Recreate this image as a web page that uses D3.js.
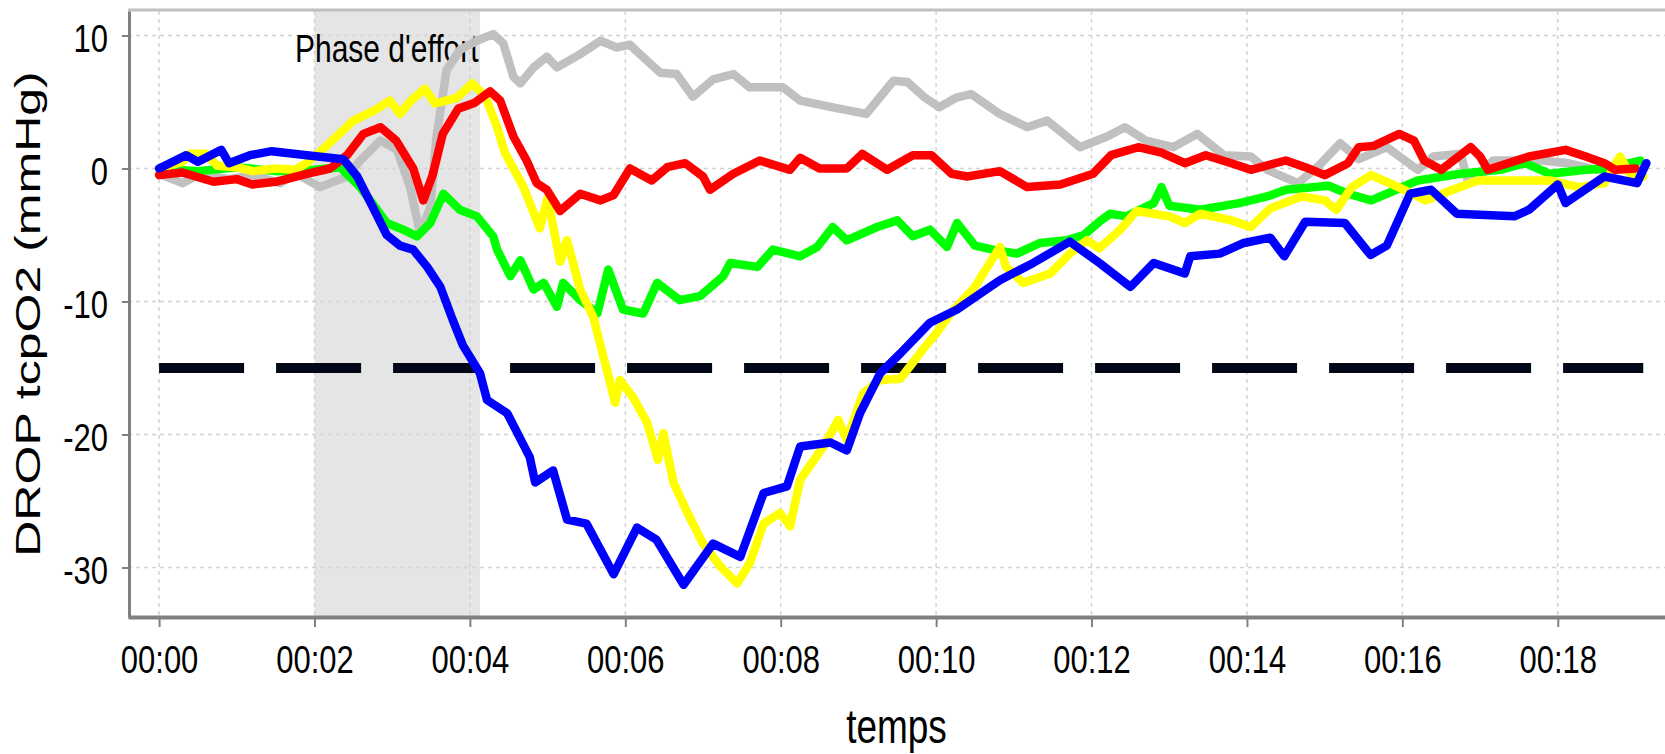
<!DOCTYPE html>
<html lang="fr">
<head>
    <meta charset="UTF-8">
    <title>DROP tcpO2</title>
    <script src="https://cdn.jsdelivr.net/npm/d3@7/dist/d3.min.js"></script>
    <style>
        body { margin: 0; background: #fff; }
        svg { display: block; }
        text { font-family: "Liberation Sans", Arial, sans-serif; fill: #000; }
    </style>
</head>
<body>
<div id="chart"></div>
<script>
    // time in minutes, values in mmHg
    const xTicks = [0, 2, 4, 6, 8, 10, 12, 14, 16, 18];
    const yTicks = [10, 0, -10, -20, -30];
    const effortPhase = [2.0, 4.13];
    const threshold = -15;
    const thresholdSpan = [0, 19.1];

    const gray = [[0,-0.4],[0.3,-1.1],[0.53,-0.4],[0.9,-0.8],[1.2,-0.5],[1.56,-1.1],[1.77,-0.4],[2.07,-1.4],[2.42,-0.6],[2.59,0.6],[2.85,2.1],[3.06,1.4],[3.23,-1.4],[3.36,-4.9],[3.49,-2.9],[3.57,2.4],[3.7,7.4],[3.87,8.9],[4.09,9.6],[4.3,10.1],[4.43,9.4],[4.56,6.9],[4.65,6.4],[4.82,7.6],[4.99,8.4],[5.12,7.6],[5.42,8.6],[5.68,9.6],[5.89,9.1],[6.06,9.3],[6.28,8.1],[6.45,7.2],[6.66,7.1],[6.87,5.4],[7.13,6.7],[7.39,7.1],[7.6,6.1],[8.03,6.1],[8.25,5.1],[8.67,4.6],[9.1,4.1],[9.45,6.6],[9.63,6.5],[9.84,5.4],[10.04,4.6],[10.25,5.3],[10.45,5.6],[10.82,4.1],[11.17,3.1],[11.43,3.6],[11.85,1.6],[12.2,2.4],[12.43,3.1],[12.7,2.1],[13.05,1.6],[13.36,2.6],[13.7,1.0],[14.05,0.9],[14.26,-0.1],[14.66,-1.1],[14.94,0.3],[15.2,1.9],[15.44,0.7],[15.8,1.6],[16.2,-0.1],[16.4,0.9],[16.75,1.1],[16.85,-1.1],[17.17,0.6],[17.8,0.6],[18.13,0.4],[18.5,-0.1],[18.88,0.4],[19.1,0.1]];

    const red = [[0,-0.5],[0.3,-0.3],[0.7,-1.0],[1.0,-0.8],[1.2,-1.2],[1.5,-1.0],[1.9,-0.4],[2.2,0.0],[2.42,1.0],[2.63,2.6],[2.85,3.1],[3.05,2.1],[3.27,0.0],[3.4,-2.4],[3.52,-0.5],[3.65,2.6],[3.85,4.5],[4.05,4.9],[4.26,5.8],[4.39,5.1],[4.56,2.4],[4.73,0.6],[4.86,-1.1],[4.99,-1.6],[5.16,-3.2],[5.42,-1.9],[5.68,-2.4],[5.85,-2.0],[6.06,0.0],[6.34,-0.9],[6.54,0.1],[6.77,0.4],[7.0,-0.6],[7.09,-1.6],[7.39,-0.4],[7.73,0.6],[8.12,-0.1],[8.25,0.8],[8.5,0.0],[8.85,0.0],[9.05,1.1],[9.37,-0.1],[9.7,1.0],[9.94,1.0],[10.2,-0.4],[10.4,-0.6],[10.82,-0.2],[11.17,-1.4],[11.6,-1.2],[12.02,-0.4],[12.25,1.0],[12.6,1.6],[12.9,1.2],[13.2,0.4],[13.47,1.0],[13.85,0.3],[14.05,-0.1],[14.5,0.6],[14.75,0.1],[15.0,-0.5],[15.3,0.4],[15.44,1.6],[15.63,1.7],[15.96,2.6],[16.15,2.1],[16.28,0.6],[16.5,-0.1],[16.88,1.6],[17.0,0.9],[17.1,-0.1],[17.63,0.9],[18.1,1.4],[18.36,0.9],[18.6,0.4],[18.74,-0.1],[19.0,0.0]];

    const green = [[0,0],[0.5,-0.2],[1.0,0.1],[1.5,-0.2],[2.0,-0.1],[2.33,0.1],[2.59,-1.4],[2.93,-4.1],[3.14,-4.6],[3.32,-5.1],[3.49,-4.1],[3.66,-1.9],[3.87,-3.1],[4.09,-3.6],[4.3,-5.1],[4.35,-6.1],[4.52,-8.1],[4.65,-6.9],[4.82,-9.1],[4.95,-8.6],[5.12,-10.4],[5.2,-8.6],[5.42,-9.9],[5.64,-10.9],[5.78,-7.6],[5.97,-10.6],[6.23,-10.9],[6.41,-8.6],[6.7,-9.9],[6.96,-9.6],[7.26,-8.1],[7.35,-7.1],[7.7,-7.4],[7.9,-6.1],[8.25,-6.6],[8.47,-5.9],[8.67,-4.4],[8.85,-5.4],[9.24,-4.4],[9.5,-3.9],[9.7,-5.1],[9.92,-4.6],[10.14,-5.9],[10.27,-4.1],[10.5,-5.8],[10.73,-6.1],[11.04,-6.4],[11.34,-5.6],[11.68,-5.4],[11.9,-5.0],[12.1,-4.0],[12.24,-3.4],[12.45,-3.6],[12.8,-2.6],[12.9,-1.4],[13.0,-2.8],[13.4,-3.1],[13.9,-2.6],[14.26,-2.1],[14.5,-1.6],[15.05,-1.3],[15.3,-1.9],[15.6,-2.4],[15.8,-1.9],[16.2,-0.9],[16.75,-0.4],[17.26,-0.1],[17.58,0.4],[17.9,-0.4],[18.36,-0.1],[18.65,0.0],[19.06,0.6]];

    const yellow = [[0,0],[0.3,0.5],[0.4,1.1],[0.6,1.1],[0.75,0.2],[1.0,0.1],[1.2,-0.2],[1.5,0.0],[1.75,-0.1],[1.9,0.4],[2.1,1.4],[2.3,2.5],[2.5,3.6],[2.78,4.4],[2.97,5.1],[3.1,4.1],[3.24,5.1],[3.42,6.0],[3.55,4.9],[3.83,5.3],[4.03,6.4],[4.2,5.4],[4.35,3.1],[4.45,1.2],[4.56,0.0],[4.69,-1.4],[4.9,-4.5],[5.0,-2.2],[5.16,-7.0],[5.25,-5.4],[5.42,-9.1],[5.59,-11.2],[5.72,-14.2],[5.87,-17.6],[5.93,-15.9],[6.1,-17.2],[6.28,-19.1],[6.42,-21.9],[6.49,-19.9],[6.62,-23.6],[6.8,-25.9],[7.0,-28.2],[7.22,-29.9],[7.44,-31.2],[7.6,-29.7],[7.78,-26.7],[7.99,-25.9],[8.12,-26.9],[8.25,-23.4],[8.55,-20.9],[8.74,-18.9],[8.85,-20.4],[9.06,-16.9],[9.28,-15.9],[9.54,-15.8],[9.66,-14.9],[9.83,-13.6],[10.0,-12.4],[10.2,-10.8],[10.5,-8.9],[10.82,-5.9],[10.9,-7.4],[11.12,-8.6],[11.47,-7.9],[11.72,-6.4],[11.94,-5.4],[12.1,-6.0],[12.37,-4.6],[12.58,-3.2],[13.0,-3.6],[13.2,-4.1],[13.4,-3.4],[13.8,-3.9],[14.05,-4.4],[14.3,-3.0],[14.7,-2.1],[15.0,-2.4],[15.15,-3.1],[15.35,-1.4],[15.6,-0.5],[15.95,-1.4],[16.3,-2.4],[16.65,-1.6],[16.97,-0.9],[17.44,-0.9],[17.9,-0.9],[18.27,-1.4],[18.6,-1.1],[18.8,0.9],[18.93,-0.4],[19.1,-0.6]];

    const blue = [[0,0],[0.35,1.0],[0.5,0.5],[0.8,1.4],[0.9,0.4],[1.17,1.0],[1.45,1.3],[1.9,1.0],[2.37,0.7],[2.55,-0.6],[2.75,-2.9],[2.93,-5.0],[3.1,-5.8],[3.27,-6.1],[3.45,-7.4],[3.62,-8.9],[3.78,-11.4],[3.91,-13.3],[4.13,-15.4],[4.22,-17.4],[4.48,-18.4],[4.77,-21.7],[4.84,-23.6],[5.07,-22.7],[5.25,-26.4],[5.5,-26.7],[5.85,-30.5],[6.15,-27.0],[6.4,-27.9],[6.75,-31.3],[7.13,-28.2],[7.48,-29.2],[7.78,-24.4],[8.08,-23.9],[8.25,-20.9],[8.64,-20.6],[8.85,-21.2],[9.02,-18.4],[9.28,-15.4],[9.54,-13.9],[9.92,-11.6],[10.27,-10.6],[10.57,-9.4],[10.82,-8.4],[11.25,-7.1],[11.72,-5.5],[12.1,-7.1],[12.5,-8.9],[12.8,-7.1],[13.2,-7.9],[13.27,-6.6],[13.65,-6.4],[13.96,-5.6],[14.3,-5.2],[14.48,-6.6],[14.75,-4.0],[15.26,-4.1],[15.59,-6.5],[15.8,-5.8],[16.1,-1.9],[16.37,-1.6],[16.7,-3.4],[17.44,-3.6],[17.63,-3.1],[18.0,-1.2],[18.1,-2.6],[18.6,-0.6],[19.02,-1.1],[19.14,0.4]];

    const series = [
        { data: gray, color: "#c0c0c0" },
        { data: green, color: "#00ff00" },
        { data: yellow, color: "#ffff00" },
        { data: red, color: "#ff0000" },
        { data: blue, color: "#0000ff" }
    ];

    const width = 1665, height = 754;
    const plot = { left: 128, right: 1665, top: 11, bottom: 617 };

    const svg = d3.select("#chart")
        .append("svg")
        .attr("width", width)
        .attr("height", height);

    svg.append("rect").attr("width", width).attr("height", height).attr("fill", "#fff");

    const x = d3.scaleLinear()
        .domain([-0.4, 19.38])
        .range([plot.left, plot.right]);

    const y = d3.scaleLinear()
        .domain([-33.72, 11.84])
        .range([plot.bottom, plot.top]);

    // effort phase band
    svg.append("rect")
        .attr("x", x(effortPhase[0]))
        .attr("y", plot.top)
        .attr("width", x(effortPhase[1]) - x(effortPhase[0]))
        .attr("height", plot.bottom - plot.top)
        .attr("fill", "#e5e5e5");

    // grid
    const grid = svg.append("g")
        .attr("stroke", "#d4d4d4")
        .attr("stroke-width", 1.5)
        .attr("stroke-dasharray", "4,4");

    grid.selectAll(".vgrid")
        .data(xTicks)
        .enter()
        .append("line")
        .attr("x1", d => x(d)).attr("x2", d => x(d))
        .attr("y1", plot.top).attr("y2", plot.bottom);

    grid.selectAll(".hgrid")
        .data(yTicks)
        .enter()
        .append("line")
        .attr("x1", plot.left).attr("x2", plot.right)
        .attr("y1", d => y(d)).attr("y2", d => y(d));

    // top border
    svg.append("line")
        .attr("x1", plot.left).attr("x2", plot.right)
        .attr("y1", plot.top - 1).attr("y2", plot.top - 1)
        .attr("stroke", "#c0c0c0")
        .attr("stroke-width", 3);

    // annotation
    svg.append("text")
        .attr("transform", `translate(295,62) scale(1,1.3)`)
        .attr("font-size", 30)
        .text("Phase d'effort");

    // threshold line
    svg.append("line")
        .attr("x1", x(thresholdSpan[0])).attr("x2", x(thresholdSpan[1]))
        .attr("y1", y(threshold)).attr("y2", y(threshold))
        .attr("stroke", "#030818")
        .attr("stroke-width", 10)
        .attr("stroke-dasharray", "85,32");

    // series
    const line = d3.line()
        .x(d => x(d[0]))
        .y(d => y(d[1]));

    svg.append("g")
        .selectAll("path")
        .data(series)
        .enter()
        .append("path")
        .attr("d", d => line(d.data))
        .attr("fill", "none")
        .attr("stroke", d => d.color)
        .attr("stroke-width", 8.5)
        .attr("stroke-linejoin", "round")
        .attr("stroke-linecap", "round");

    // axes
    const yAxis = svg.append("g")
        .attr("transform", `translate(${plot.left + 1},0)`)
        .call(d3.axisLeft(y).tickValues(yTicks).tickSize(7).tickSizeOuter(0).tickPadding(0)
            .tickFormat(d => String(d)));

    const xAxis = svg.append("g")
        .attr("transform", `translate(0,${plot.bottom})`)
        .call(d3.axisBottom(x).tickValues(xTicks).tickSize(10).tickSizeOuter(0)
            .tickFormat(d => "00:" + String(d).padStart(2, "0")));

    [yAxis, xAxis].forEach(g => {
        g.select(".domain").attr("stroke", "#808080").attr("stroke-width", 3);
        g.selectAll(".tick line").attr("stroke", "#808080").attr("stroke-width", 2);
        g.selectAll(".tick text")
            .attr("font-family", "Liberation Sans, Arial, sans-serif")
            .attr("font-size", 31)
            .attr("fill", "#000");
    });
    xAxis.select(".domain").attr("stroke-width", 4);

    yAxis.selectAll(".tick text")
        .attr("x", -21)
        .attr("dy", "0.41em")
        .attr("transform", "scale(1,1.26)");

    xAxis.selectAll(".tick text")
        .attr("y", 44.4)
        .attr("dy", 0)
        .attr("transform", "scale(1,1.26)");

    // axis titles
    svg.append("text")
        .attr("transform", `translate(${(plot.left + plot.right) / 2},743) scale(1,1.3)`)
        .attr("text-anchor", "middle")
        .attr("font-size", 37)
        .text("temps");

    svg.append("text")
        .attr("transform", "translate(40,314) scale(1,1.43) rotate(-90)")
        .attr("text-anchor", "middle")
        .attr("font-size", 35)
        .text("DROP tcpO2 (mmHg)");
</script>
</body>
</html>
